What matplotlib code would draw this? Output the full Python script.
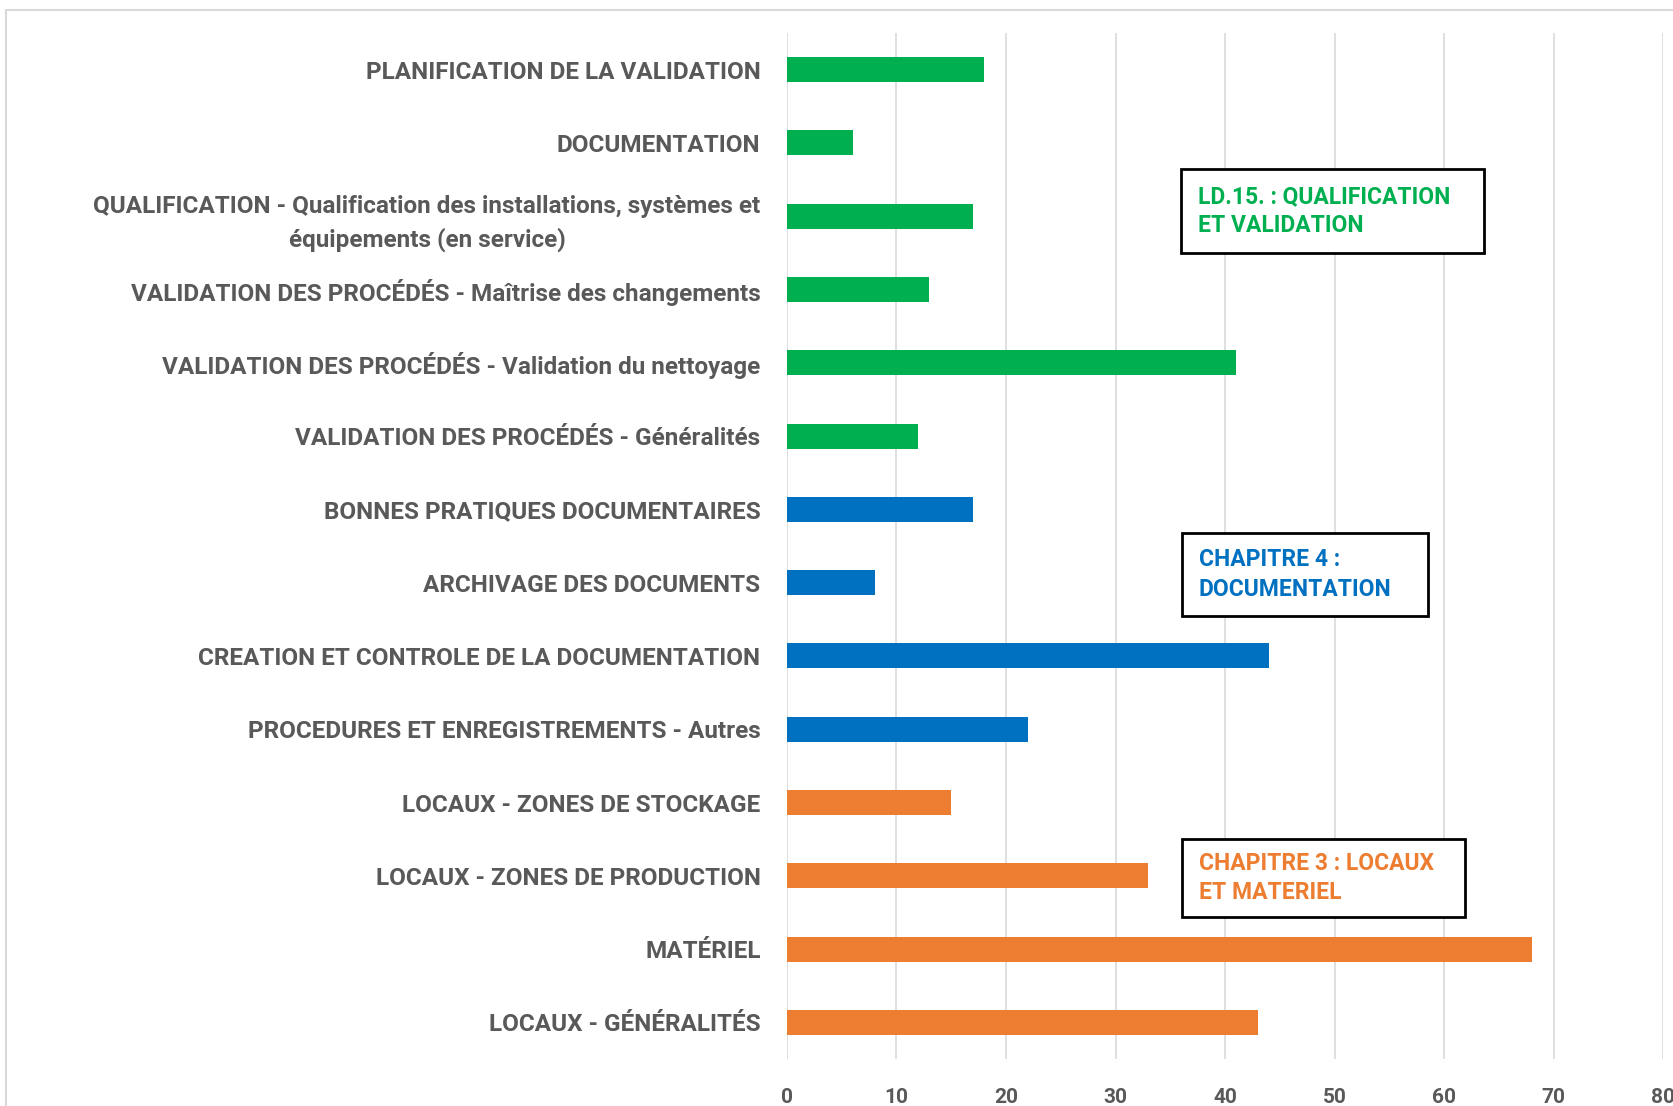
import matplotlib.pyplot as plt
from matplotlib.patches import Rectangle

# categories from top to bottom, as read on the chart
categories = [
    "PLANIFICATION DE LA VALIDATION",
    "DOCUMENTATION",
    "QUALIFICATION - Qualification des installations, systèmes et\néquipements (en service)",
    "VALIDATION DES PROCÉDÉS - Maîtrise des changements",
    "VALIDATION DES PROCÉDÉS - Validation du nettoyage",
    "VALIDATION DES PROCÉDÉS - Généralités",
    "BONNES PRATIQUES DOCUMENTAIRES",
    "ARCHIVAGE DES DOCUMENTS",
    "CREATION ET CONTROLE DE LA DOCUMENTATION",
    "PROCEDURES ET ENREGISTREMENTS - Autres",
    "LOCAUX - ZONES DE STOCKAGE",
    "LOCAUX - ZONES DE PRODUCTION",
    "MATÉRIEL",
    "LOCAUX - GÉNÉRALITÉS",
]
values = [18, 6, 17, 13, 41, 12, 17, 8, 44, 22, 15, 33, 68, 43]
groups = ["LD15"] * 6 + ["CH4"] * 4 + ["CH3"] * 4

group_colors = {"LD15": "#00B050", "CH4": "#0070C0", "CH3": "#ED7D31"}
group_titles = {
    "LD15": "LD.15. : QUALIFICATION\nET VALIDATION",
    "CH4": "CHAPITRE 4 :\nDOCUMENTATION",
    "CH3": "CHAPITRE 3 : LOCAUX\nET MATERIEL",
}

W, H = 1674, 1106
FONT = ["Roboto", "DejaVu Sans"]
GREY = "#595959"

fig = plt.figure(figsize=(W / 100, H / 100), dpi=100)
ax = fig.add_axes([787 / W, 1 - 1059 / H, (1663 - 787) / W, (1059 - 33) / H])

ypos = list(range(len(categories)))
colors = [group_colors[g] for g in groups]
ax.barh(ypos, values, height=0.34, color=colors, zorder=2)

ax.set_ylim(len(categories) - 0.5, -0.5)
ax.set_xlim(0, 80)
ax.set_xticks(range(0, 81, 10))
ax.set_yticks(ypos)
ax.set_yticklabels(categories, family=FONT, fontsize=17.5, fontweight="bold",
                   color=GREY, multialignment="center", linespacing=1.5)
for lbl in ax.get_xticklabels():
    lbl.set_family(FONT)
    lbl.set_fontsize(15)
    lbl.set_fontweight("bold")
    lbl.set_color(GREY)

ax.tick_params(axis="y", length=0, pad=19)
ax.tick_params(axis="x", length=0, pad=21)
ax.grid(axis="x", color="#D9D9D9", linewidth=1.2, zorder=0)
for sp in ax.spines.values():
    sp.set_visible(False)

# outer chart frame (light grey)
fig.patches.append(Rectangle((6 / W, -0.05), 1.1, 1 - 10 / H + 0.05,
                             transform=fig.transFigure, fill=False,
                             edgecolor="#D9D9D9", linewidth=1.5))

# text boxes: (left, top, right, bottom) in pixels
boxes = {
    "LD15": (1181, 169, 1484, 253),
    "CH4": (1182, 533, 1428, 616),
    "CH3": (1182, 839, 1465, 917),
}
for g, (l, t, r, b) in boxes.items():
    fig.patches.append(Rectangle((l / W, 1 - b / H), (r - l) / W, (b - t) / H,
                                 transform=fig.transFigure, facecolor="white",
                                 edgecolor="black", linewidth=2, zorder=5))
    fig.text((l + 17) / W, 1 - ((t + b) / 2) / H, group_titles[g],
             family=FONT, fontsize=16.5, fontweight="bold", color=group_colors[g],
             ha="left", va="center", linespacing=1.35, zorder=6)

fig.savefig("out.png", dpi=100)
plt.close(fig)
